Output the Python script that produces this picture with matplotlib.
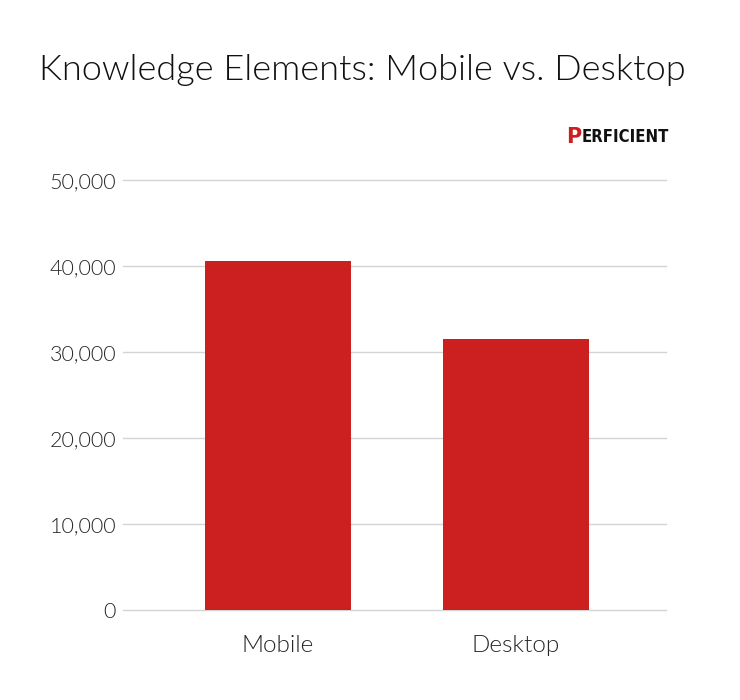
import matplotlib
matplotlib.use("Agg")
import matplotlib.pyplot as plt
from matplotlib.ticker import FuncFormatter

categories = ["Mobile", "Desktop"]
values = [40600, 31550]
yticks = [0, 10000, 20000, 30000, 40000, 50000]
title = "Knowledge Elements: Mobile vs. Desktop"

plt.rcParams['font.family'] = ['Lato', 'DejaVu Sans']

fig = plt.figure(figsize=(7.4, 7.0), dpi=100)
W, H = 740, 700
ax = fig.add_axes([123 / W, (H - 610) / H, 543 / W, 430 / H])

x = list(range(len(categories)))
ax.bar(x, values, width=0.613, color="#CC1F20", zorder=3)
ax.set_xlim(-0.651, 1.630)
ax.set_ylim(0, 50000)
ax.set_yticks(yticks)
ax.yaxis.set_major_formatter(FuncFormatter(lambda v, p: f"{int(v):,}"))
ax.set_xticks(x)
ax.set_xticklabels(categories)
ax.grid(axis="y", color="#d4d4d4", linewidth=1.0, zorder=0)
for gl in ax.get_ygridlines():
    gl.set_clip_on(False)
for s in ax.spines.values():
    s.set_visible(False)
ax.tick_params(axis="both", length=0, labelcolor="#262626")
ax.tick_params(axis="y", pad=5)
ax.tick_params(axis="x", pad=18)
for lab in ax.get_yticklabels():
    lab.set_fontweight(300)
    lab.set_fontsize(15.5)
for lab in ax.get_xticklabels():
    lab.set_fontweight(300)
    lab.set_fontsize(17.5)

fig.text(362 / W, 1 - 70 / H, title, ha="center", va="center",
         fontsize=26, fontweight=300, color="#111111")

# logo
fig.text(566 / W, 1 - 137 / H, "P", ha="left", va="center", fontsize=15,
         fontweight="bold", color="#CC1F20", family=['DejaVu Sans'])
fig.text(582 / W, 1 - 137 / H, "ERFICIENT", ha="left", va="center", fontsize=12,
         fontweight="bold", fontstretch="condensed", color="#111111",
         family=['DejaVu Sans'])

fig.savefig("out.png", dpi=100)
